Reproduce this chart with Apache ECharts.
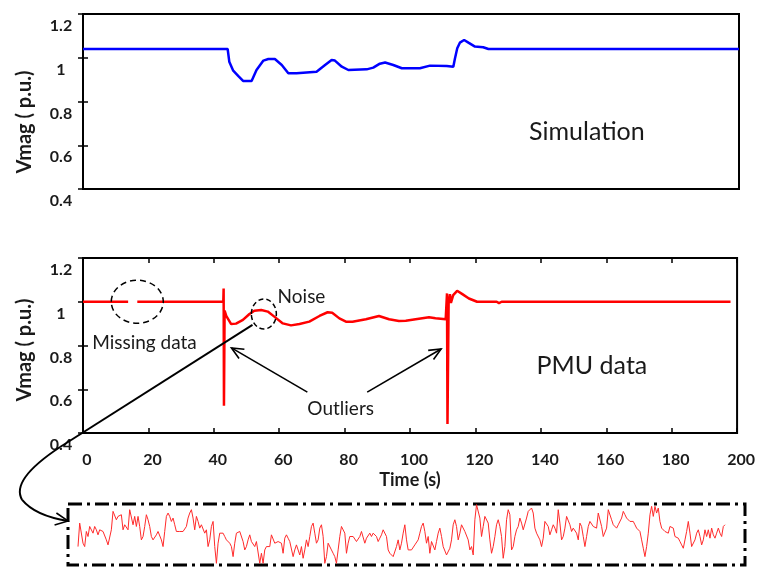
<!DOCTYPE html>
<html><head><meta charset="utf-8">
<script src="https://cdn.jsdelivr.net/npm/echarts@6/dist/echarts.min.js"></script>
<style>html,body{margin:0;padding:0;background:#fff}#c{width:758px;height:567px}</style>
</head><body><div id="c"></div>
<script>
// ---- data ----
const xTicks = [0, 20, 40, 60, 80, 100, 120, 140, 160, 180, 200];
const yTicks = [0.4, 0.6, 0.8, 1.0, 1.2];

const simT = [0,44.1,44.6,45.8,47.3,48.8,51.4,52.9,55,56.5,58.5,60.6,62.6,65.1,71.2,73.8,75.8,76.8,78.9,80.9,86.5,88.5,90.5,92.1,94.6,97.2,102.7,105.8,110.9,112.9,113.4,114.1,114.9,116.2,117.5,119.5,122,123.6,200];
const simV = [1.04,1.04,0.982,0.941,0.917,0.894,0.894,0.944,0.987,0.994,0.994,0.967,0.929,0.929,0.936,0.967,0.99,0.987,0.959,0.944,0.947,0.955,0.973,0.978,0.967,0.952,0.952,0.964,0.962,0.959,0.997,1.043,1.069,1.081,1.069,1.051,1.048,1.04,1.04];

const pmuT = [0,13.8,15,16.6,42.9,43.0,43.1,43.3,43.8,45.3,46.8,48.9,50.9,52.4,54.5,56.5,58.5,61.1,63.6,66.2,69.2,72.3,74.8,76.2,78.4,80.4,82.4,86.5,90.5,93.6,96.6,98.7,101.7,105.8,107.8,110.9,111.3,111.45,111.8,112.2,112.5,113.2,114.4,116,118,120.5,126.5,127.2,128,198];
const pmuV = [1,1,null,1,1,1.061,0.525,0.96,0.935,0.898,0.9,0.917,0.944,0.959,0.962,0.955,0.932,0.901,0.892,0.898,0.909,0.935,0.952,0.95,0.924,0.909,0.909,0.92,0.935,0.92,0.912,0.913,0.92,0.929,0.925,0.92,1.038,0.441,0.995,1.035,0.995,1.03,1.05,1.035,1.015,1.0,1.0,0.994,1.0,1.0];

// zoomed noise segment (relative amplitude)
const noiseV = [
55,125,120,65,55,100,85,115,120,95,
115,105,90,105,107,100,100,75,60,55,
105,160,165,135,145,140,150,105,120,125,
105,165,160,120,145,115,145,115,75,85,
115,150,135,115,85,75,80,90,100,95,
75,55,100,145,155,145,130,140,120,100,
95,100,105,100,105,115,140,155,165,140,
105,145,130,110,120,115,95,105,55,75,
115,130,55,5,65,95,100,95,85,75,
80,65,55,25,65,95,100,100,100,70,
45,55,75,90,70,65,55,70,65,5,
35,5,45,55,50,55,90,85,65,60,
70,65,65,35,80,90,80,70,65,25,
45,60,65,
30,55,20,45,75,55,85,115,125,95,
65,75,110,120,85,5,25,65,60,45,
35,25,5,45,85,115,110,95,35,65,
85,90,85,80,70,75,85,100,95,65,
80,80,95,85,95,90,85,70,80,90,
105,105,85,45,35,40,25,20,55,75,
45,65,95,120,75,45,40,45,50,60,
65,75,95,115,125,100,65,85,35,70,
75,45,70,95,110,85,55,60,30,25,
50,75,120,135,115,75,95,120,115,100,
100,75,45,55,30,135,180,175,140,85,
115,145,150,125,75,35,55,85,120,135,
115,85,20,55,135,165,150,45,55,85,
105,115,140,125,105,
105,140,160,165,170,155,110,95,90,75,
55,80,130,135,115,90,105,120,110,95,
165,125,75,85,110,145,140,120,100,110,
115,95,75,125,115,85,55,85,115,130,
125,115,120,110,155,160,115,85,85,110,
165,160,135,120,115,110,120,115,140,160,
150,140,135,130,125,130,120,110,115,100,
75,50,25,55,95,150,175,145,175,155,
170,130,110,105,100,100,95,115,120,110,
85,85,80,70,60,50,75,100,130,95,
55,50,75,95,105,85,60,75,105,85,
105,80,110,90,80,95,110,95,85,115,
120
];

// ---- chart ----
const FONT = 'Lato';
const chart = echarts.init(document.getElementById('c'), null, {renderer: 'canvas'});

const tickStyle = {color: '#000', width: 1.5};
function yLeft(grid) {
  return {
    gridIndex: grid, type: 'value', position: 'left',
    min: yTicks[0], max: yTicks[yTicks.length - 1], interval: 0.2,
    axisLine: {show: false},
    axisTick: {show: true, inside: true, length: 5, lineStyle: tickStyle},
    splitLine: {show: false},
    axisLabel: {fontFamily: FONT, fontWeight: 'bold', fontSize: 16, color: '#1a1a1a',
      align: 'center', margin: 22, verticalAlign: 'top', padding: [4, 0, 0, 0]}
  };
}
function yRight(grid) {
  return {
    gridIndex: grid, type: 'value', position: 'right',
    min: yTicks[0], max: yTicks[yTicks.length - 1], interval: 0.2,
    axisLine: {show: false},
    axisTick: {show: true, inside: true, length: 5, lineStyle: tickStyle},
    splitLine: {show: false}, axisLabel: {show: false}
  };
}
const xMin = xTicks[0], xMax = xTicks[xTicks.length - 1];

const option = {
  animation: false,
  backgroundColor: '#fff',
  grid: [
    {left: 83, right: 19, top: 14, height: 175, show: true, borderColor: '#000', borderWidth: 2},
    {left: 83, right: 19, top: 258, height: 175, show: true, borderColor: '#000', borderWidth: 2},
    {left: 68, right: 13, top: 504, height: 61, show: true, borderColor: '#000', borderWidth: 3,
      borderType: [14, 5, 3, 5]}
  ],
  xAxis: [
    {gridIndex: 0, type: 'value', min: xMin, max: xMax, interval: 20, position: 'bottom',
      axisLine: {show: false}, axisTick: {show: false}, axisLabel: {show: false}, splitLine: {show: false}},
    {gridIndex: 0, type: 'value', min: xMin, max: xMax, interval: 20, position: 'top',
      axisLine: {show: false}, axisTick: {show: false}, axisLabel: {show: false}, splitLine: {show: false}},
    {gridIndex: 1, type: 'value', min: xMin, max: xMax, interval: 20, position: 'bottom',
      axisLine: {show: false},
      axisTick: {show: true, inside: true, length: 5, lineStyle: tickStyle},
      splitLine: {show: false},
      axisLabel: {fontFamily: FONT, fontWeight: 'bold', fontSize: 16, color: '#1a1a1a', margin: 19,
        padding: [0, 0, 0, 8]},
      name: 'Time (s)', nameLocation: 'middle', nameGap: 38,
      nameTextStyle: {fontFamily: FONT, fontWeight: 'bold', fontSize: 18, color: '#1a1a1a'}},
    {gridIndex: 1, type: 'value', min: xMin, max: xMax, interval: 20, position: 'top',
      axisLine: {show: false},
      axisTick: {show: true, inside: true, length: 5, lineStyle: tickStyle},
      axisLabel: {show: false}, splitLine: {show: false}},
    {gridIndex: 2, type: 'value', min: -6, max: 400, show: false}
  ],
  yAxis: [
    yLeft(0), yRight(0),
    yLeft(1), yRight(1),
    {gridIndex: 2, type: 'value', min: 0, max: 182, show: false}
  ],
  series: [
    {type: 'line', name: 'Simulation', xAxisIndex: 0, yAxisIndex: 0, symbol: 'none',
      data: simT.map((t, i) => [t, simV[i]]),
      lineStyle: {color: '#0000ff', width: 2.5}},
    {type: 'line', name: 'PMU data', xAxisIndex: 2, yAxisIndex: 2, symbol: 'none', connectNulls: false,
      data: pmuT.map((t, i) => [t, pmuV[i] === null ? '-' : pmuV[i]]),
      lineStyle: {color: '#ff0000', width: 2.5}},
    {type: 'line', name: 'Noise detail', xAxisIndex: 4, yAxisIndex: 4, symbol: 'none',
      data: noiseV.map((v, i) => [i, v]),
      lineStyle: {color: '#ff2a2a', width: 1}}
  ]
};
chart.setOption(option);

// ---- annotations (anchored in data coordinates) ----
const P = (t, v) => chart.convertToPixel({xAxisIndex: 2, yAxisIndex: 2}, [t, v]);
const PT = (t, v) => chart.convertToPixel({xAxisIndex: 0, yAxisIndex: 0}, [t, v]);
const txt = (text, p, size) => ({type: 'text', z: 20, style: {text, x: p[0], y: p[1], fill: '#1a1a1a',
  font: size + 'px ' + FONT, verticalAlign: 'middle', align: 'left'}});
const yName = (p) => ({type: 'text', z: 20, x: p[0], y: p[1], rotation: Math.PI / 2,
  style: {text: 'Vmag ( p.u.)', x: 0, y: 0, fill: '#1a1a1a', font: 'bold 20px ' + FONT,
    align: 'center', verticalAlign: 'middle'}});
function arrowHead(from, tip, len, ang) {
  const a = Math.atan2(tip[1] - from[1], tip[0] - from[0]);
  const p1 = [tip[0] - len * Math.cos(a - ang), tip[1] - len * Math.sin(a - ang)];
  const p2 = [tip[0] - len * Math.cos(a + ang), tip[1] - len * Math.sin(a + ang)];
  return {type: 'polyline', z: 20, shape: {points: [p1, tip, p2]}, style: {stroke: '#000', lineWidth: 1.6, fill: null}};
}
function arrow(from, tip) {
  return [
    {type: 'line', z: 20, shape: {x1: from[0], y1: from[1], x2: tip[0], y2: tip[1]}, style: {stroke: '#000', lineWidth: 1.6}},
    arrowHead(from, tip, 13, 0.42)
  ];
}
const mc = P(16.6, 1.0), nc = P(55.3, 0.944);
const a1f = P(68.6, 0.587), a1t = P(45.4, 0.789);
const a2f = P(86.9, 0.587), a2t = P(109.5, 0.784);
const c0 = P(51.83, 0.894), c1 = P(-7.0, 0.336), c2 = P(-22.3, 0.185), c3 = P(-18.6, 0.094), c4 = P(-14.6, 0.021), c5 = P(-4.6, -0.002);
const connStyle = {stroke: '#000', lineWidth: 2, fill: null};

const graphics = [
  {type: 'ellipse', z: 20, shape: {cx: mc[0], cy: mc[1], rx: 26, ry: 21.5}, style: {stroke: '#000', lineWidth: 1.5, fill: null, lineDash: [6, 4]}},
  {type: 'ellipse', z: 20, shape: {cx: nc[0], cy: nc[1], rx: 12.5, ry: 15}, style: {stroke: '#000', lineWidth: 1.5, fill: null, lineDash: [5, 3]}},
  txt('Noise', P(59.5, 1.022), 19),
  txt('Missing data', P(2.8, 0.811), 19),
  txt('Outliers', P(68.6, 0.51), 19),
  txt('PMU data', P(138.7, 0.706), 25),
  txt('Simulation', PT(136, 0.661), 25),
  yName([24.5, PT(0, 0.706)[1]]),
  yName([25, P(0, 0.779)[1]]),
  ...arrow(a1f, a1t), ...arrow(a2f, a2t),
  {type: 'line', z: 20, shape: {x1: c0[0], y1: c0[1], x2: c1[0], y2: c1[1]}, style: connStyle},
  {type: 'bezierCurve', z: 20, shape: {x1: c1[0], y1: c1[1], cpx1: c2[0], cpy1: c2[1], x2: c3[0], y2: c3[1]}, style: connStyle},
  {type: 'bezierCurve', z: 20, shape: {x1: c3[0], y1: c3[1], cpx1: c4[0], cpy1: c4[1], x2: c5[0], y2: c5[1]}, style: connStyle},
  arrowHead(c4, c5, 14, 0.45)
];
chart.setOption({graphic: graphics});
</script>
</body></html>
